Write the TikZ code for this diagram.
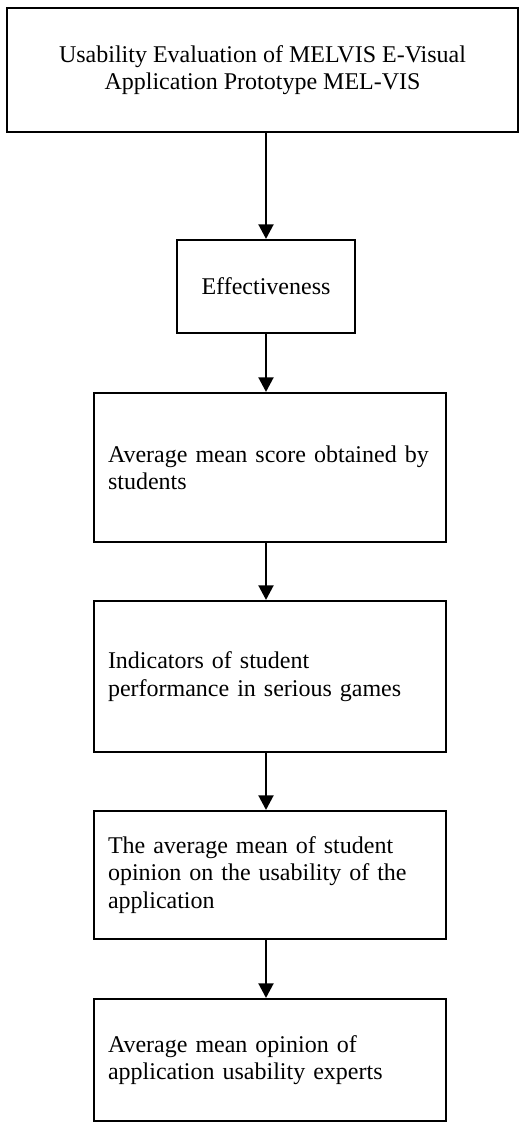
\documentclass[tikz,border=0pt]{standalone}
\usepackage{fontspec}
\setmainfont{Liberation Serif}
\usetikzlibrary{arrows.meta}
\tikzset{
  box/.style={draw=black, line width=1.5pt, fill=white, inner sep=0pt, font=\fontsize{18}{20.5}\selectfont},
  boxc/.style={box, align=center},
  boxl/.style={box, align=left, inner xsep=10.5pt, text width=243pt, minimum width=264pt},
  flow/.style={draw=black, line width=2.2pt, -{Triangle[length=11pt,width=11pt]}},
}
\begin{document}
\begin{tikzpicture}[x=0.75pt, y=-0.75pt]
  \useasboundingbox (0,0) rectangle (520,1122);

  \node[boxc, minimum width=383.25pt, minimum height=93pt] (title) at (262.5,70)
    {Usability Evaluation of MELVIS E-Visual\\Application Prototype MEL-VIS};
  \node[boxc, minimum width=133.5pt, minimum height=69.75pt] (eff) at (266,286.5) {Effectiveness};

  \node[boxl, minimum height=111.75pt] (score) at (270,467.5)
    {Average mean score obtained by\\students};
  \node[boxl, minimum height=113.25pt] (indic) at (270,676.5)
    {Indicators of student\\performance in serious games};
  \node[boxl, minimum height=96pt] (opinion) at (270,875)
    {The average mean of student\\opinion on the usability of the\\application};
  \node[boxl, minimum height=91.5pt] (experts) at (270,1060)
    {Average mean opinion of\\application usability experts};

  \draw[flow] (eff.north |- title.south) -- (eff.north);
  \draw[flow] (eff.south) -- (eff.south |- score.north);
  \draw[flow] (eff.south |- score.south) -- (eff.south |- indic.north);
  \draw[flow] (eff.south |- indic.south) -- (eff.south |- opinion.north);
  \draw[flow] (eff.south |- opinion.south) -- (eff.south |- experts.north);
\end{tikzpicture}
\end{document}
